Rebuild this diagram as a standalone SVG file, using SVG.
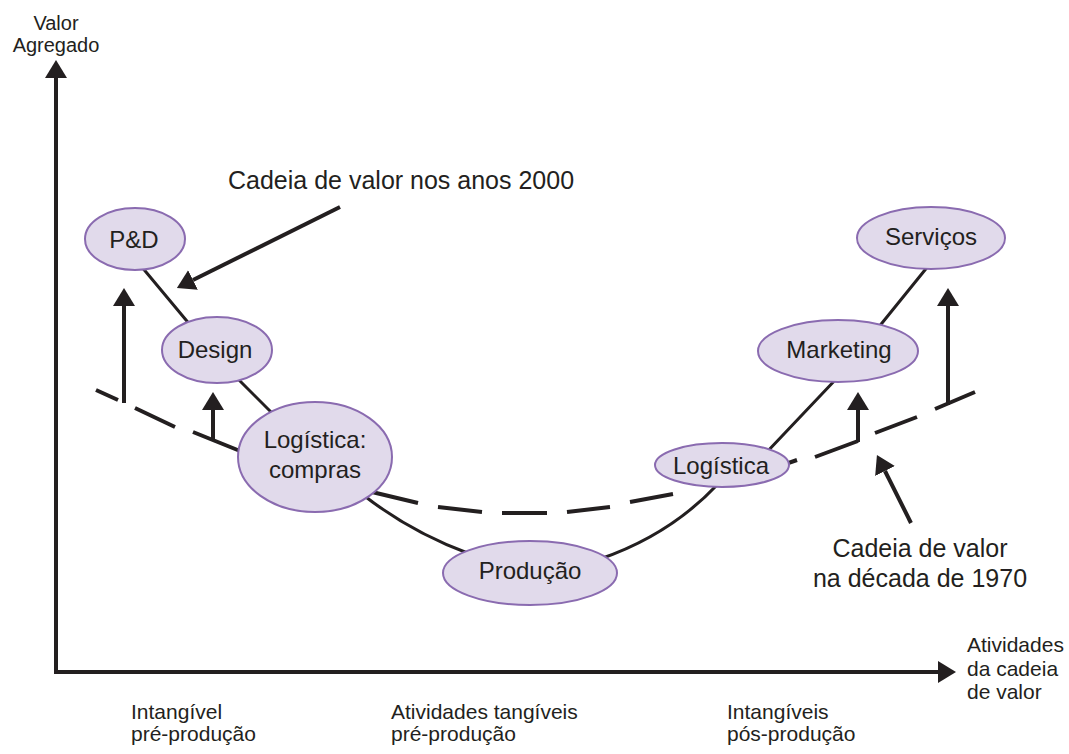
<svg xmlns="http://www.w3.org/2000/svg" width="1069" height="754" viewBox="0 0 1069 754">
<style>
  .node ellipse { fill: #e1daeb; stroke: #8a6bb0; stroke-width: 2; }
  .node text { font-family: "Liberation Sans", Arial, sans-serif; font-size: 24px; fill: #231f20; text-anchor: middle; }
  .lbl { font-family: "Liberation Sans", Arial, sans-serif; fill: #231f20; }
  .axis { stroke: #231f20; stroke-width: 4; fill: none; }
  .arrow { stroke: #231f20; stroke-width: 4; fill: none; marker-end: url(#ah); }
  .curve { stroke: #231f20; stroke-width: 3; fill: none; }
  .dash { stroke: #231f20; stroke-width: 4; fill: none; stroke-linecap: butt; }
</style>
<defs>
  <marker id="ah" markerWidth="18" markerHeight="22" refX="0" refY="11" orient="auto" markerUnits="userSpaceOnUse">
    <path d="M0,0 L18,11 L0,22 Z" fill="#231f20"/>
  </marker>
</defs>
<rect width="1069" height="754" fill="#ffffff"/>

<g id="connectors">
  <!-- axes -->
  <line class="axis" x1="56" y1="674" x2="56" y2="78" marker-end="url(#ah)"/>
  <line class="axis" x1="54" y1="672" x2="938" y2="672" marker-end="url(#ah)"/>
  <!-- 2000s value chain (solid) -->
  <path class="curve" d="M141,266 L191,326 M238,379 L275,416 M362,494 Q410,532 470,554 M600,559 Q670,535 718,484 M765,454 L838,377 M878,328 L929,265"/>
  <!-- 1970s value chain (dashed) -->
  <path class="dash" d="M96,390 L118,400 M135,408 L175,427 M193,432 L250,455 M372,492 L418,503 M438,507 L482,512 M502,513 L547,513 M567,512 L610,507 M630,502 L673,494 M757,474 L797,460 M815,457 L858,441 M875,433 L917,417 M935,409 L975,392"/>
  <!-- upward arrows -->
  <line class="arrow" x1="124" y1="403" x2="124" y2="306"/>
  <line class="arrow" x1="213" y1="440" x2="213" y2="410"/>
  <line class="arrow" x1="858" y1="442" x2="858" y2="410"/>
  <line class="arrow" x1="948" y1="405" x2="948" y2="306"/>
  <!-- annotation arrows -->
  <line class="arrow" x1="340" y1="207" x2="193" y2="280"/>
  <line class="arrow" x1="911" y1="523" x2="885" y2="471"/>
</g>

<g id="node-pd" class="node">
  <ellipse cx="135" cy="239" rx="50" ry="31"/>
  <text x="134" y="248">P&amp;D</text>
</g>
<g id="node-design" class="node">
  <ellipse cx="217" cy="350" rx="55" ry="33"/>
  <text x="215" y="358">Design</text>
</g>
<g id="node-logistica-compras" class="node">
  <ellipse cx="315" cy="457" rx="77" ry="55"/>
  <text x="315" y="448">Logística:</text>
  <text x="315" y="478">compras</text>
</g>
<g id="node-producao" class="node">
  <ellipse cx="530" cy="573" rx="87" ry="32"/>
  <text x="530" y="579">Produção</text>
</g>
<g id="node-logistica" class="node">
  <ellipse cx="722" cy="465" rx="67" ry="22"/>
  <text x="721" y="474">Logística</text>
</g>
<g id="node-marketing" class="node">
  <ellipse cx="838" cy="351" rx="80" ry="31"/>
  <text x="839" y="358">Marketing</text>
</g>
<g id="node-servicos" class="node">
  <ellipse cx="931" cy="238" rx="74" ry="31"/>
  <text x="931" y="245">Serviços</text>
</g>

<g id="labels">
  <text class="lbl" x="56" y="30" font-size="20" text-anchor="middle">Valor</text>
  <text class="lbl" x="56" y="52" font-size="20" text-anchor="middle">Agregado</text>
  <text class="lbl" x="228" y="189" font-size="25">Cadeia de valor nos anos 2000</text>
  <text class="lbl" x="920" y="557" font-size="25" text-anchor="middle">Cadeia de valor</text>
  <text class="lbl" x="920" y="587" font-size="25" text-anchor="middle">na década de 1970</text>
  <text class="lbl" x="967" y="652" font-size="21">Atividades</text>
  <text class="lbl" x="967" y="676" font-size="21">da cadeia</text>
  <text class="lbl" x="967" y="699" font-size="21">de valor</text>
  <text class="lbl" x="131" y="719" font-size="21">Intangível</text>
  <text class="lbl" x="131" y="741" font-size="21">pré-produção</text>
  <text class="lbl" x="391" y="719" font-size="21">Atividades tangíveis</text>
  <text class="lbl" x="391" y="741" font-size="21">pré-produção</text>
  <text class="lbl" x="727" y="719" font-size="21">Intangíveis</text>
  <text class="lbl" x="727" y="741" font-size="21">pós-produção</text>
</g>
</svg>
